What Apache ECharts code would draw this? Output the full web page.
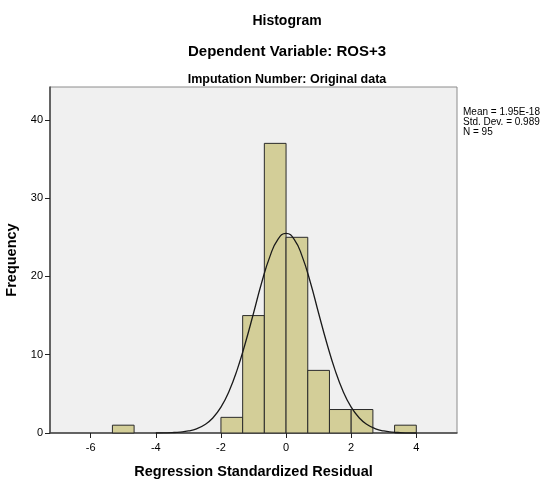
<!DOCTYPE html>
<html>
<head>
<meta charset="utf-8">
<script src="https://cdn.jsdelivr.net/npm/echarts@6/dist/echarts.min.js"></script>
<style>html,body{margin:0;padding:0;background:#fff;}#c{width:550px;height:483px;}</style>
</head>
<body>
<div id="c"></div>
<script>
// Histogram bins: [start, end] and frequency
var binStarts = [-5.333, -2, -1.333, -0.667, 0, 0.667, 1.333, 2, 3.333];
var binEnds   = [-4.667, -1.333, -0.667, 0, 0.667, 1.333, 2, 2.667, 4];
var frequencies = [1, 2, 15, 37, 25, 8, 3, 3, 1];
// Normal curve
var curveX = [-4, -3.75, -3.5, -3.25, -3, -2.75, -2.5, -2.25, -2, -1.75, -1.5, -1.25, -1, -0.75, -0.5, -0.25, 0, 0.25, 0.5, 0.75, 1, 1.25, 1.5, 1.75, 2, 2.25, 2.5, 2.75, 3, 3.25, 3.5, 3.75, 4];
var curveY = [0, 0.02, 0.05, 0.12, 0.26, 0.53, 1.05, 1.92, 3.3, 5.34, 8.1, 11.5, 15.3, 19.2, 22.5, 24.75, 25.5, 24.75, 22.5, 19.2, 15.3, 11.5, 8.1, 5.34, 3.3, 1.92, 1.05, 0.53, 0.26, 0.12, 0.05, 0.02, 0];
var xTicks = [-6, -4, -2, 0, 2, 4];
var yTicks = [0, 10, 20, 30, 40];
var statsLines = ['Mean = 1.95E-18', 'Std. Dev. = 0.989', 'N = 95'];

var barData = binStarts.map(function (s, i) { return [s, binEnds[i], frequencies[i]]; });
var lineData = curveX.map(function (x, i) { return [x, curveY[i]]; });
var FONT = '"Liberation Sans", Arial, sans-serif';

var chart = echarts.init(document.getElementById('c'), null, {renderer: 'canvas'});
chart.setOption({
  animation: false,
  backgroundColor: '#ffffff',
  title: [
    {text: 'Histogram', left: 282, top: 9, textAlign: 'center', textStyle: {fontFamily: FONT, fontSize: 14, fontWeight: 'bold', color: '#000'}},
    {text: 'Dependent Variable: ROS+3', left: 282, top: 39, textAlign: 'center', textStyle: {fontFamily: FONT, fontSize: 15, fontWeight: 'bold', color: '#000'}},
    {text: 'Imputation Number: Original data', left: 282, top: 68, textAlign: 'center', textStyle: {fontFamily: FONT, fontSize: 12.5, fontWeight: 'bold', color: '#000'}}
  ],
  grid: {left: 50, top: 87, width: 407, height: 346, containLabel: false, outerBoundsMode: 'none', show: true, backgroundColor: '#f0f0f0', borderColor: '#8c8c8c', borderWidth: 1},
  xAxis: {
    type: 'value', min: -7.25, max: 5.25, interval: 2,
    name: 'Regression Standardized Residual', nameLocation: 'middle', nameGap: 31,
    nameTextStyle: {fontFamily: FONT, fontSize: 14.5, fontWeight: 'bold', color: '#000'},
    axisLine: {show: true, onZero: false, lineStyle: {color: '#444', width: 1.5}},
    axisTick: {show: true, length: 5, lineStyle: {color: '#222'}, customValues: xTicks},
    axisLabel: {fontFamily: FONT, fontSize: 11, color: '#000', margin: 9, customValues: xTicks},
    splitLine: {show: false}
  },
  yAxis: {
    type: 'value', min: 0, max: 44.2, interval: 10,
    name: 'Frequency', nameLocation: 'middle', nameGap: 28,
    nameTextStyle: {fontFamily: FONT, fontSize: 14.5, fontWeight: 'bold', color: '#000'},
    axisLine: {show: true, onZero: false, lineStyle: {color: '#444', width: 1.5}},
    axisTick: {show: true, length: 5, lineStyle: {color: '#222'}, customValues: yTicks},
    axisLabel: {fontFamily: FONT, fontSize: 11, color: '#000', margin: 7, customValues: yTicks},
    splitLine: {show: false}
  },
  series: [
    {
      type: 'custom',
      data: barData,
      encode: {x: [0, 1], y: 2},
      renderItem: function (params, api) {
        var p0 = api.coord([api.value(0), 0]);
        var p1 = api.coord([api.value(1), api.value(2)]);
        return {
          type: 'rect',
          shape: {x: p0[0], y: p1[1], width: p1[0] - p0[0], height: p0[1] - p1[1]},
          style: {fill: '#d3ce98', stroke: '#2a2a2a', lineWidth: 1}
        };
      },
      z: 2
    },
    {
      type: 'line',
      data: lineData,
      smooth: true,
      showSymbol: false,
      lineStyle: {color: '#1a1a1a', width: 1.3},
      z: 3
    }
  ],
  graphic: [{
    type: 'text', left: 463, top: 107,
    style: {text: statsLines.join('\n'), fontFamily: FONT, fontSize: 10, lineHeight: 10, fill: '#000'}
  }]
});
</script>
</body>
</html>
